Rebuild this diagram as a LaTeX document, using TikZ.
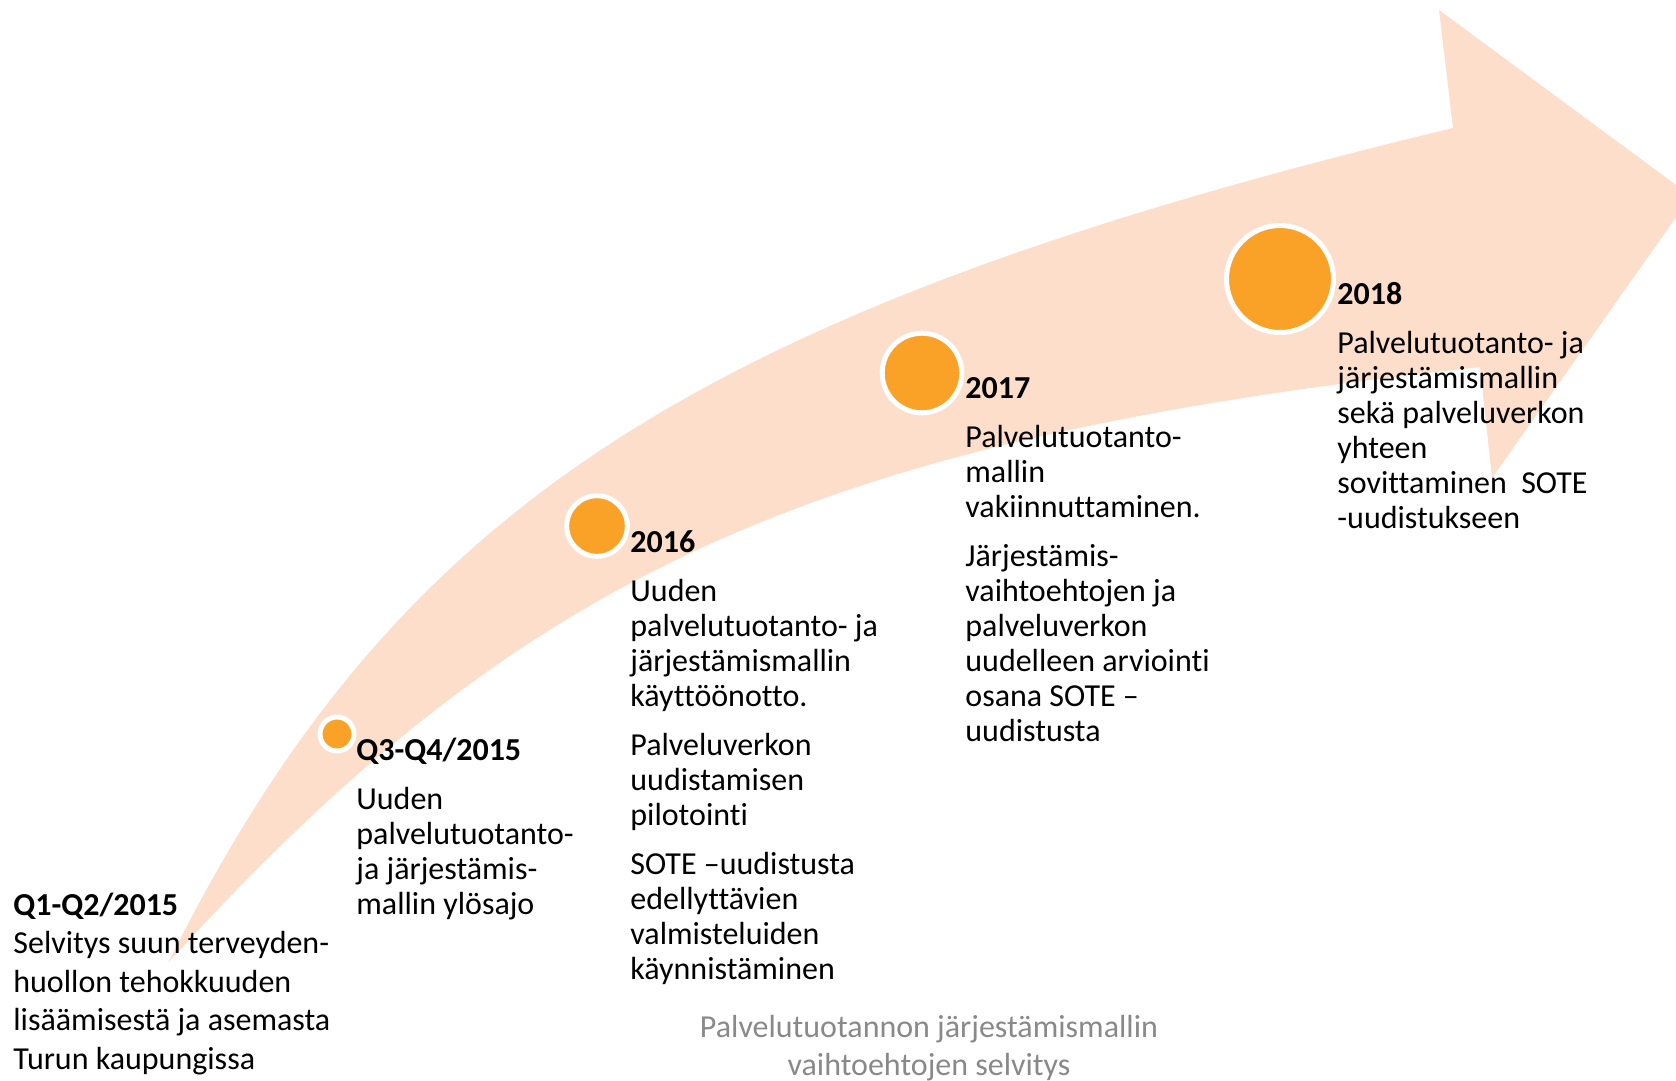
\documentclass[tikz,border=0pt]{standalone}
\usepackage{fontspec}
\setmainfont{Carlito}[Ligatures={NoCommon}]
\usetikzlibrary{positioning}
\definecolor{bandpeach}{RGB}{252,222,203}
\definecolor{dotorange}{RGB}{250,162,40}
\definecolor{notegray}{RGB}{137,137,137}

\begin{document}
\begin{tikzpicture}[
	x=0.5pt, y=-0.5pt,
  dot/.style = {circle,fill=dotorange,draw=white,line width=2.5pt,inner sep=0pt},
  phase/.style = {anchor=base west,align=left,inner sep=0pt,font=\fontsize{16}{17.5}\selectfont}
  ]
	\useasboundingbox (0,0) rectangle (1676,1081);
	\clip (0,0) rectangle (1676,1081);

	% curved arrow
	\coordinate (tail) at (168,963);
	\coordinate (headtop) at (1453,128);
	\coordinate (headbot) at (1480,367);
	\fill[bandpeach] (tail) .. controls (392,514) and (684,313) .. (headtop)
		-- (1439,10) -- (1691,196) -- (1492,478)
		-- (headbot) .. controls (812,440) and (524,571) .. (tail) -- cycle;

	\coordinate (@1) at (337,734);
	\coordinate (@2) at (597,526);
	\coordinate (@3) at (922,373);
	\coordinate (@4) at (1280,279);

	\node[dot,minimum size=17pt] (dot1) at (@1) {};
	\node[dot,minimum size=30.3pt] (dot2) at (@2) {};
	\node[dot,minimum size=39.8pt] (dot3) at (@3) {};
	\node[dot,minimum size=53.5pt] (dot4) at (@4) {};

	% base anchor sits on the last line
	\node[phase,font=\fontsize{16}{19.25}\selectfont] (phase0) at (13,1069) {\textbf{Q1-Q2/2015}\\Selvitys suun terveyden-\\huollon tehokkuuden\\lisäämisestä ja asemasta\\Turun kaupungissa};
	\node[phase] (phase1) at (356,914) {\textbf{Q3-Q4/2015}\\[7pt]Uuden\\palvelutuotanto-\\ja järjestämis-\\mallin ylösajo};
	\node[phase] (phase2) at (630,979) {\textbf{2016}\\[7pt]Uuden\\palvelutuotanto- ja\\järjestämismallin\\käyttöönotto.\\[7pt]Palveluverkon\\uudistamisen\\pilotointi\\[7pt]SOTE –uudistusta\\edellyttävien\\valmisteluiden\\käynnistäminen};
	\node[phase] (phase3) at (965,741) {\textbf{2017}\\[7pt]Palvelutuotanto-\\mallin\\vakiinnuttaminen.\\[7pt]Järjestämis-\\vaihtoehtojen ja\\palveluverkon\\uudelleen arviointi\\osana SOTE –\\uudistusta};
	\node[phase] (phase4) at (1337,528) {\textbf{2018}\\[7pt]Palvelutuotanto- ja\\järjestämismallin\\sekä palveluverkon\\yhteen\\sovittaminen\ \ SOTE\\-uudistukseen};

	\node[anchor=base,align=center,inner sep=0pt,text=notegray,font=\fontsize{16}{19}\selectfont] (caption) at (929,1075) {Palvelutuotannon järjestämismallin\\vaihtoehtojen selvitys};

\end{tikzpicture}
\end{document}
